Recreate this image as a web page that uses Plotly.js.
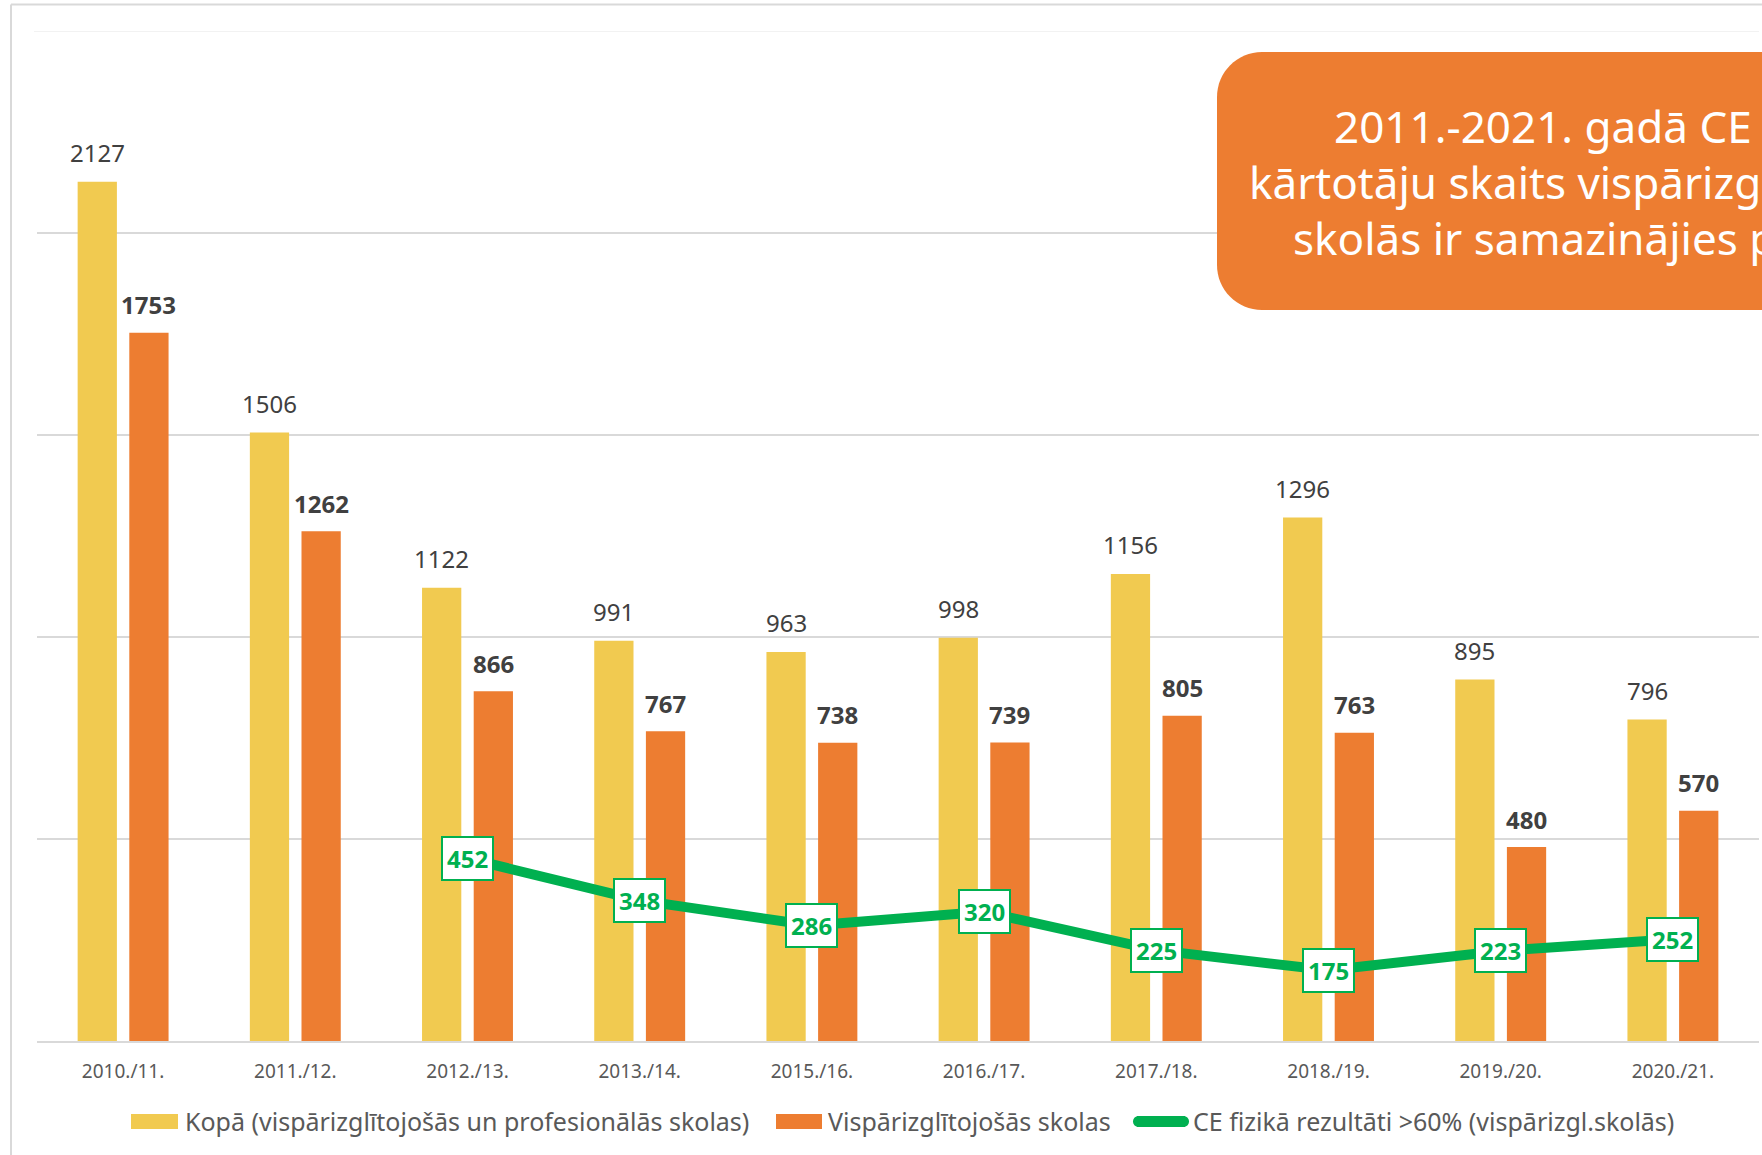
<!DOCTYPE html>
<html>
<head>
<meta charset="utf-8">
<script src="https://cdn.plot.ly/plotly-3.0.1.min.js"></script>
<style>html,body{margin:0;padding:0;background:#fff;}#chart{width:1762px;height:1155px;}</style>
</head>
<body>
<div id="chart"></div>
<script>
// ---- data ----
const categories = ['2010./11.', '2011./12.', '2012./13.', '2013./14.', '2015./16.', '2016./17.', '2017./18.', '2018./19.', '2019./20.', '2020./21.'];
const totalSchools = [2127, 1506, 1122, 991, 963, 998, 1156, 1296, 895, 796];
const generalSchools = [1753, 1262, 866, 767, 738, 739, 805, 763, 480, 570];
const cePhysicsOver60 = [null, null, 452, 348, 286, 320, 225, 175, 223, 252];
const seriesNames = ['Kopā (vispārizglītojošās un profesionālās skolas)', 'Vispārizglītojošās skolas', 'CE fizikā rezultāti >60% (vispārizgl.skolās)'];
const boxLines = ['2011.-2021. gadā CE', 'kārtotāju skaits vispārizg', 'skolās ir samazinājies p'];

// ---- geometry helpers ----
const W = 1762, Hh = 1155;
const M = {l: 37, r: 3, t: 31, b: 114};
const PW = W - M.l - M.r, PH = Hh - M.t - M.b;
const px = x => (x - M.l) / PW;
const py = y => (M.t + PH - y) / PH;

const FONT = '"Noto Sans", "Open Sans", sans-serif';
const YELLOW = '#F1CA50', ORANGE = '#ED7D31', GREEN = '#00B050', TXT = '#404040', GREY = '#595959';

const traces = [
  {type: 'bar', name: seriesNames[0], x: categories, y: totalSchools, marker: {color: YELLOW}, hoverinfo: 'skip', showlegend: false},
  {type: 'bar', name: seriesNames[1], x: categories, y: generalSchools, marker: {color: ORANGE}, hoverinfo: 'skip', showlegend: false},
  {type: 'scatter', mode: 'lines', name: seriesNames[2], x: categories, y: cePhysicsOver60, line: {color: GREEN, width: 10}, connectgaps: false, hoverinfo: 'skip', showlegend: false}
];

const annotations = [];
categories.forEach((c, i) => {
  annotations.push({x: c, y: totalSchools[i], xref: 'x', yref: 'y', text: String(totalSchools[i]), showarrow: false,
    xshift: -25.8, yshift: 29, yanchor: 'middle', font: {family: FONT, size: 24, color: TXT}});
  annotations.push({x: c, y: generalSchools[i], xref: 'x', yref: 'y', text: '<b>' + generalSchools[i] + '</b>', showarrow: false,
    xshift: 25.8, yshift: 28, yanchor: 'middle', font: {family: FONT, size: 24, color: TXT}});
  if (cePhysicsOver60[i] !== null) {
    annotations.push({x: c, y: cePhysicsOver60[i], xref: 'x', yref: 'y', text: '<b>' + cePhysicsOver60[i] + '</b>', showarrow: false,
      xanchor: 'center', yanchor: 'middle', bgcolor: '#ffffff', bordercolor: GREEN, borderwidth: 2, borderpad: 4,
      font: {family: FONT, size: 24, color: GREEN}});
  }
});

// text box lines (the reference is cropped at the right edge)
const boxLinePos = [[1332, 126], [1247, 182], [1291, 238]];
boxLines.forEach((t, i) => {
  annotations.push({xref: 'paper', yref: 'paper', x: px(boxLinePos[i][0]), y: py(boxLinePos[i][1]), text: t, showarrow: false,
    xanchor: 'left', yanchor: 'middle', font: {family: FONT, size: 44, color: '#ffffff'}});
});

// custom legend texts
const legendText = [[183, seriesNames[0]], [826, seriesNames[1]], [1191, seriesNames[2]]];
legendText.forEach(([x, t]) => {
  annotations.push({xref: 'paper', yref: 'paper', x: px(x), y: py(1121), text: t, showarrow: false,
    xanchor: 'left', yanchor: 'middle', font: {family: FONT, size: 25, color: GREY}});
});

function roundedBox(x0, yT, x1, yB, r) {
  const k = 0.5523;
  const P = (x, y) => px(x).toFixed(5) + ',' + py(y).toFixed(5);
  return 'M' + P(x0 + r, yT) + ' L' + P(x1, yT) + ' L' + P(x1, yB) + ' L' + P(x0 + r, yB) +
    ' C' + P(x0 + r - k * r, yB) + ' ' + P(x0, yB - r + k * r) + ' ' + P(x0, yB - r) +
    ' L' + P(x0, yT + r) +
    ' C' + P(x0, yT + r - k * r) + ' ' + P(x0 + r - k * r, yT) + ' ' + P(x0 + r, yT) + ' Z';
}
function pill(x0, yT, x1, yB) {
  const r = (yB - yT) / 2, k = 0.5523;
  const P = (x, y) => px(x).toFixed(5) + ',' + py(y).toFixed(5);
  return 'M' + P(x0 + r, yT) + ' L' + P(x1 - r, yT) +
    ' C' + P(x1 - r + k * r, yT) + ' ' + P(x1, yT + r - k * r) + ' ' + P(x1, yT + r) +
    ' C' + P(x1, yB - r + k * r) + ' ' + P(x1 - r + k * r, yB) + ' ' + P(x1 - r, yB) +
    ' L' + P(x0 + r, yB) +
    ' C' + P(x0 + r - k * r, yB) + ' ' + P(x0, yB - r + k * r) + ' ' + P(x0, yB - r) +
    ' C' + P(x0, yT + r - k * r) + ' ' + P(x0 + r - k * r, yT) + ' ' + P(x0 + r, yT) + ' Z';
}

const shapes = [
  {type: 'line', xref: 'paper', yref: 'paper', x0: px(11), x1: px(11), y0: py(1200), y1: py(4.5), line: {color: '#D9D9D9', width: 2}, layer: 'below'},
  {type: 'line', xref: 'paper', yref: 'paper', x0: px(11), x1: px(1800), y0: py(4.5), y1: py(4.5), line: {color: '#D9D9D9', width: 2}, layer: 'below'},
  {type: 'line', xref: 'paper', yref: 'y', x0: px(34), x1: 1, y0: 2500, y1: 2500, line: {color: '#F2F2F2', width: 2}, layer: 'below'},
  {type: 'path', xref: 'paper', yref: 'paper', path: roundedBox(1217, 52, 1900, 310, 45), fillcolor: ORANGE, line: {width: 0}, layer: 'above'},
  {type: 'rect', xref: 'paper', yref: 'paper', x0: px(131), x1: px(178), y0: py(1114), y1: py(1129), fillcolor: YELLOW, line: {width: 0}},
  {type: 'rect', xref: 'paper', yref: 'paper', x0: px(776), x1: px(822), y0: py(1114), y1: py(1129), fillcolor: ORANGE, line: {width: 0}},
  {type: 'path', xref: 'paper', yref: 'paper', path: pill(1133, 1116, 1189, 1127), fillcolor: GREEN, line: {width: 0}}
];

const layout = {
  width: W, height: Hh,
  margin: M,
  paper_bgcolor: '#ffffff', plot_bgcolor: '#ffffff',
  barmode: 'group', bargap: 0.4, bargroupgap: 0.24,
  showlegend: false,
  hovermode: false,
  font: {family: FONT, color: GREY},
  xaxis: {type: 'category', showgrid: false, showline: true, linecolor: '#D9D9D9', linewidth: 2, ticks: '',
    tickfont: {family: FONT, size: 19, color: GREY}, ticklabelstandoff: 12, zeroline: false, fixedrange: true},
  yaxis: {range: [0, 2500], tickvals: [500, 1000, 1500, 2000], showticklabels: false, showgrid: true,
    gridcolor: '#D9D9D9', gridwidth: 2, zeroline: false, showline: false, fixedrange: true},
  annotations: annotations,
  shapes: shapes
};

Plotly.newPlot('chart', traces, layout, {displayModeBar: false, staticPlot: true});
</script>
</body>
</html>
